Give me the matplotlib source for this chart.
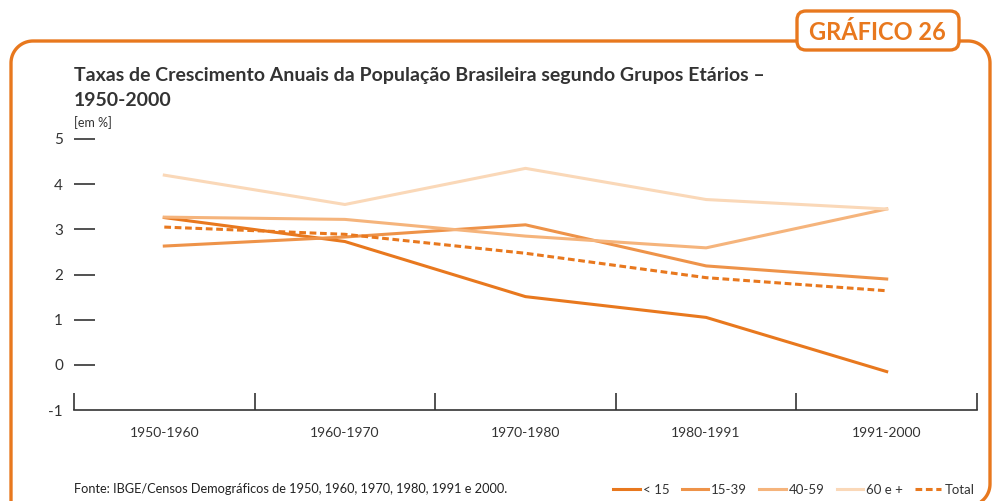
import matplotlib
matplotlib.use("Agg")
import matplotlib.pyplot as plt
from matplotlib.patches import FancyBboxPatch
from matplotlib.lines import Line2D
import numpy as np

plt.rcParams['font.family'] = ['Lato', 'DejaVu Sans']
plt.rcParams['axes.unicode_minus'] = False

periods = ['1950-1960', '1960-1970', '1970-1980', '1980-1991', '1991-2000']
under_15 = [3.26, 2.73, 1.51, 1.05, -0.15]
age_15_39 = [2.63, 2.83, 3.10, 2.19, 1.90]
age_40_59 = [3.27, 3.22, 2.85, 2.59, 3.45]
age_60_plus = [4.20, 3.55, 4.35, 3.66, 3.45]
total = [3.05, 2.89, 2.47, 1.93, 1.64]

series = [
    ('< 15', under_15, '#e8781e', '-'),
    ('15-39', age_15_39, '#ee9349', '-'),
    ('40-59', age_40_59, '#f5b47c', '-'),
    ('60 e +', age_60_plus, '#fad8b8', '-'),
    ('Total', total, '#e8781e', '--'),
]
dash = (0, (2.2, 1.2))

W, H = 993, 501
fig = plt.figure(figsize=(W / 100, H / 100), dpi=100)

# decoration layer in pixel coordinates (y down)
bg = fig.add_axes([0, 0, 1, 1])
bg.set_xlim(0, W)
bg.set_ylim(H, 0)
bg.axis('off')
orange = '#e8781e'


def corner(cx, cy, r, a0, a1):
    t = np.radians(np.linspace(a0, a1, 20))
    return list(cx + r * np.cos(t)), list(cy + r * np.sin(t))


r, L, T, R, B = 22, 11, 41, 990, 506
fx, fy = [L], [H + 20]
for cx, cy, a0, a1 in [(L + r, T + r, 180, 270), (R - r, T + r, 270, 360), (R - r, B - r, 0, 90)]:
    px, py = corner(cx, cy, r, a0, a1)
    fx += px
    fy += py
fx.append(900)
fy.append(B)
bg.plot(fx, fy, color=orange, lw=2.4, solid_capstyle='butt')

badge = FancyBboxPatch((797, 11), 162, 39, boxstyle='round,pad=0,rounding_size=9',
                       fc='white', ec=orange, lw=2.4, zorder=3)
bg.add_patch(badge)
bg.text(877, 32, 'GRÁFICO 26', color=orange, fontsize=17, fontweight='bold',
        ha='center', va='center', zorder=4)
bg.text(74, 75, 'Taxas de Crescimento Anuais da População Brasileira segundo Grupos Etários –',
        fontsize=14, fontweight='bold', color='#333333', va='center')
bg.text(74, 100, '1950-2000', fontsize=14, fontweight='bold', color='#333333', va='center')
bg.text(74, 123, '[em %]', fontsize=9, color='#333333', va='center')
bg.text(74, 489, 'Fonte: IBGE/Censos Demográficos de 1950, 1960, 1970, 1980, 1991 e 2000.',
        fontsize=9.2, color='#222222', va='center')

# main chart
ax = fig.add_axes([74 / W, (H - 410) / H, (977 - 74) / W, (410 - 139) / H])
ax.patch.set_alpha(0)
x = np.arange(len(periods))
for label, vals, color, ls in series:
    ax.plot(x, vals, color=color, lw=2.2, ls=dash if ls == '--' else '-', label=label)

ax.set_xlim(-0.5, len(periods) - 0.5)
ax.set_ylim(-1, 5)
for s in ['top', 'right', 'left']:
    ax.spines[s].set_visible(False)
ax.spines['bottom'].set_color('#333333')
ax.spines['bottom'].set_linewidth(1.2)

ax.set_xticks(x)
ax.set_xticklabels(periods)
ax.set_xticks(np.arange(len(periods) + 1) - 0.5, minor=True)
ax.tick_params(axis='x', which='major', length=0, pad=12, labelsize=10, labelcolor='#333333')
ax.tick_params(axis='x', which='minor', direction='in', length=12, width=1.2, color='#333333')

ax.set_yticks(range(-1, 6))
ax.tick_params(axis='y', direction='in', length=15, width=1.2, color='#333333',
               pad=8, labelsize=11, labelcolor='#333333')
ytl = ax.yaxis.get_major_ticks()
ytl[0].tick1line.set_visible(False)
ytl[1].tick1line.set_linewidth(2.2)
ytl[1].tick1line.set_color('#111111')

handles = [Line2D([], [], color=c, lw=2.2, ls=dash if ls == '--' else '-')
           for _, _, c, ls in series]
fig.legend(handles, [s[0] for s in series], ncol=5, frameon=False,
           loc='center right', bbox_to_anchor=(984 / W, (H - 490) / H),
           fontsize=9.5, handlelength=2.0, handletextpad=0.25, columnspacing=0.9,
           labelcolor='#333333', borderpad=0.2)

fig.savefig('out.png', dpi=100)
